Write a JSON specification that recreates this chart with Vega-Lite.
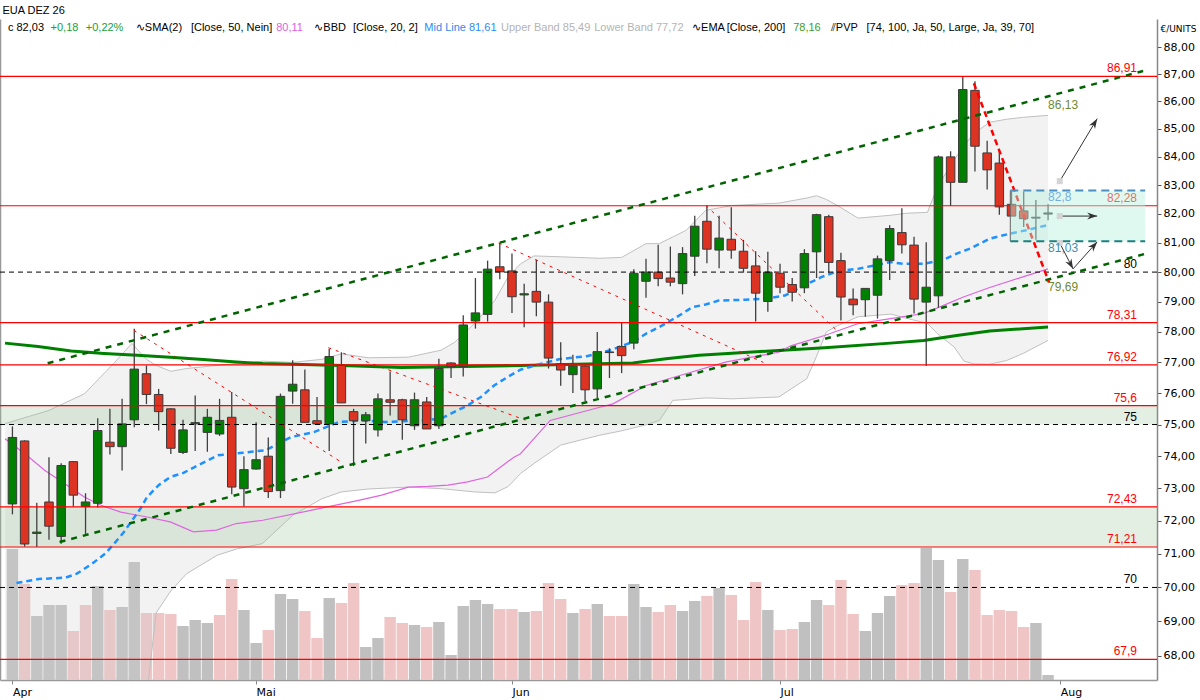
{
  "$schema": "https://vega.github.io/schema/vega-lite/v6.json",
  "width": 1157,
  "height": 661,
  "autosize": {"type": "none"},
  "padding": {"left": 0, "top": 19, "right": 43, "bottom": 20},
  "background": "white",
  "title": {"text": "EUA DEZ 26", "anchor": "start", "font": "Liberation Sans", "fontSize": 11, "fontWeight": "normal", "color": "#000", "offset": 3, "dx": 3},
  "config": {
    "view": {"stroke": null},
    "axis": {"grid": false, "labelFont": "DejaVu Sans", "labelFontSize": 11, "labelColor": "#000"}
  },
  "datasets": {
    "candles": [
      {"i": 0, "o": 72.52, "h": 74.94, "l": 72.2, "c": 74.59},
      {"i": 1, "o": 74.48, "h": 74.5, "l": 71.22, "c": 71.3},
      {"i": 2, "o": 71.62, "h": 72.56, "l": 71.21, "c": 71.66},
      {"i": 3, "o": 72.58, "h": 73.97, "l": 71.43, "c": 71.84},
      {"i": 4, "o": 71.53, "h": 73.78, "l": 71.31, "c": 73.71},
      {"i": 5, "o": 73.83, "h": 73.85, "l": 72.44, "c": 72.79},
      {"i": 6, "o": 72.44, "h": 72.85, "l": 71.57, "c": 72.58},
      {"i": 7, "o": 72.54, "h": 75.2, "l": 72.41, "c": 74.81},
      {"i": 8, "o": 74.44, "h": 75.5, "l": 74.05, "c": 74.3},
      {"i": 9, "o": 74.3, "h": 75.82, "l": 73.55, "c": 75.02},
      {"i": 10, "o": 75.15, "h": 78.1, "l": 74.91, "c": 76.78},
      {"i": 11, "o": 76.63, "h": 76.9, "l": 75.65, "c": 75.96},
      {"i": 12, "o": 75.96, "h": 76.14, "l": 74.81, "c": 75.41},
      {"i": 13, "o": 75.5, "h": 75.52, "l": 74.07, "c": 74.25},
      {"i": 14, "o": 74.12, "h": 75.15, "l": 74.07, "c": 74.83},
      {"i": 15, "o": 75.02, "h": 75.93, "l": 74.16, "c": 75.06},
      {"i": 16, "o": 74.75, "h": 75.5, "l": 74.14, "c": 75.23},
      {"i": 17, "o": 74.7, "h": 75.82, "l": 74.64, "c": 75.13},
      {"i": 18, "o": 75.23, "h": 76.04, "l": 72.82, "c": 73.04},
      {"i": 19, "o": 72.99, "h": 74.0, "l": 72.44, "c": 73.58},
      {"i": 20, "o": 73.6, "h": 75.07, "l": 73.58, "c": 73.89},
      {"i": 21, "o": 74.0, "h": 74.59, "l": 72.7, "c": 72.9},
      {"i": 22, "o": 72.93, "h": 75.99, "l": 72.7, "c": 75.9},
      {"i": 23, "o": 76.07, "h": 77.07, "l": 75.66, "c": 76.29},
      {"i": 24, "o": 76.11, "h": 76.77, "l": 75.07, "c": 75.07},
      {"i": 25, "o": 75.12, "h": 75.88, "l": 75.0, "c": 75.02},
      {"i": 26, "o": 75.02, "h": 77.44, "l": 74.16, "c": 77.19},
      {"i": 27, "o": 76.9, "h": 77.33, "l": 75.69, "c": 75.69},
      {"i": 28, "o": 75.41, "h": 75.5, "l": 73.69, "c": 75.12},
      {"i": 29, "o": 75.12, "h": 75.4, "l": 74.4, "c": 75.31},
      {"i": 30, "o": 74.83, "h": 75.99, "l": 74.62, "c": 75.82},
      {"i": 31, "o": 75.79, "h": 76.7, "l": 75.29, "c": 75.71},
      {"i": 32, "o": 75.79, "h": 75.82, "l": 74.52, "c": 75.15},
      {"i": 33, "o": 74.96, "h": 76.02, "l": 74.83, "c": 75.79},
      {"i": 34, "o": 75.72, "h": 75.88, "l": 74.86, "c": 74.86},
      {"i": 35, "o": 74.96, "h": 77.12, "l": 74.86, "c": 76.8},
      {"i": 36, "o": 76.98, "h": 77.0, "l": 76.49, "c": 76.87},
      {"i": 37, "o": 76.87, "h": 78.55, "l": 76.54, "c": 78.23},
      {"i": 38, "o": 78.36, "h": 79.8, "l": 78.11, "c": 78.63},
      {"i": 39, "o": 78.58, "h": 80.39, "l": 78.34, "c": 80.1},
      {"i": 40, "o": 80.18, "h": 81.01, "l": 79.76, "c": 80.01},
      {"i": 41, "o": 80.04, "h": 80.63, "l": 78.63, "c": 79.17},
      {"i": 42, "o": 79.23, "h": 79.61, "l": 78.15, "c": 79.27},
      {"i": 43, "o": 79.35, "h": 80.42, "l": 78.52, "c": 78.99},
      {"i": 44, "o": 78.99, "h": 79.25, "l": 76.8, "c": 77.14},
      {"i": 45, "o": 76.95, "h": 77.66, "l": 76.24, "c": 76.75},
      {"i": 46, "o": 76.6, "h": 77.25, "l": 76.01, "c": 76.88},
      {"i": 47, "o": 76.88, "h": 76.9, "l": 75.75, "c": 76.11},
      {"i": 48, "o": 76.14, "h": 78.0, "l": 75.85, "c": 77.35},
      {"i": 49, "o": 77.34, "h": 77.46, "l": 76.49, "c": 77.32},
      {"i": 50, "o": 77.52, "h": 78.32, "l": 76.65, "c": 77.22},
      {"i": 51, "o": 77.63, "h": 80.1, "l": 77.43, "c": 79.96},
      {"i": 52, "o": 79.69, "h": 80.45, "l": 79.14, "c": 80.0},
      {"i": 53, "o": 80.0, "h": 80.93, "l": 79.52, "c": 79.78},
      {"i": 54, "o": 79.8, "h": 80.87, "l": 79.52, "c": 79.66},
      {"i": 55, "o": 79.61, "h": 80.85, "l": 79.25, "c": 80.63},
      {"i": 56, "o": 80.54, "h": 81.93, "l": 79.87, "c": 81.57},
      {"i": 57, "o": 81.74, "h": 82.29, "l": 80.3, "c": 80.78},
      {"i": 58, "o": 80.75, "h": 81.93, "l": 80.13, "c": 81.16},
      {"i": 59, "o": 81.12, "h": 82.23, "l": 80.45, "c": 80.75},
      {"i": 60, "o": 80.71, "h": 81.1, "l": 79.98, "c": 80.13},
      {"i": 61, "o": 80.21, "h": 80.71, "l": 78.34, "c": 79.29},
      {"i": 62, "o": 79.01, "h": 80.69, "l": 78.67, "c": 80.0},
      {"i": 63, "o": 79.96, "h": 80.28, "l": 79.29, "c": 79.49},
      {"i": 64, "o": 79.58, "h": 79.8, "l": 79.01, "c": 79.32},
      {"i": 65, "o": 79.47, "h": 80.78, "l": 79.29, "c": 80.63},
      {"i": 66, "o": 80.69, "h": 82.0, "l": 79.8, "c": 81.97},
      {"i": 67, "o": 81.9, "h": 81.97, "l": 79.98, "c": 80.33},
      {"i": 68, "o": 80.39, "h": 80.66, "l": 78.38, "c": 79.16},
      {"i": 69, "o": 79.09, "h": 79.45, "l": 78.55, "c": 78.9},
      {"i": 70, "o": 79.07, "h": 79.45, "l": 78.5, "c": 79.45},
      {"i": 71, "o": 79.22, "h": 80.56, "l": 78.44, "c": 80.45},
      {"i": 72, "o": 80.39, "h": 81.6, "l": 79.73, "c": 81.49},
      {"i": 73, "o": 81.35, "h": 82.19, "l": 80.63, "c": 80.93},
      {"i": 74, "o": 80.92, "h": 81.21, "l": 78.61, "c": 79.09},
      {"i": 75, "o": 78.99, "h": 81.02, "l": 76.88, "c": 79.49},
      {"i": 76, "o": 79.2, "h": 84.05, "l": 78.8, "c": 84.0},
      {"i": 77, "o": 84.0, "h": 84.2, "l": 82.27, "c": 83.1},
      {"i": 78, "o": 83.1, "h": 86.9, "l": 83.1, "c": 86.43},
      {"i": 79, "o": 86.4, "h": 86.73, "l": 83.48, "c": 84.38},
      {"i": 80, "o": 84.14, "h": 84.58, "l": 82.85, "c": 83.54},
      {"i": 81, "o": 83.78, "h": 84.2, "l": 81.97, "c": 82.24},
      {"i": 82, "o": 82.33, "h": 82.8, "l": 81.92, "c": 81.92},
      {"i": 83, "o": 82.1, "h": 82.78, "l": 81.54, "c": 81.83},
      {"i": 84, "o": 81.88, "h": 82.48, "l": 81.1, "c": 81.85},
      {"i": 85, "o": 81.99, "h": 82.34, "l": 81.78, "c": 82.03}
    ],
    "vol": [
      {"i": 0, "v": 131, "d": "up"}, {"i": 1, "v": 96, "d": "down"}, {"i": 2, "v": 64, "d": "up"},
      {"i": 3, "v": 75, "d": "up"}, {"i": 4, "v": 75, "d": "up"}, {"i": 5, "v": 49, "d": "down"},
      {"i": 6, "v": 75, "d": "down"}, {"i": 7, "v": 94, "d": "up"}, {"i": 8, "v": 70, "d": "down"},
      {"i": 9, "v": 73, "d": "up"}, {"i": 10, "v": 118, "d": "up"}, {"i": 11, "v": 67, "d": "down"},
      {"i": 12, "v": 67, "d": "down"}, {"i": 13, "v": 66, "d": "down"}, {"i": 14, "v": 54, "d": "up"},
      {"i": 15, "v": 60, "d": "up"}, {"i": 16, "v": 57, "d": "up"}, {"i": 17, "v": 65, "d": "down"},
      {"i": 18, "v": 101, "d": "down"}, {"i": 19, "v": 70, "d": "up"}, {"i": 20, "v": 37, "d": "up"},
      {"i": 21, "v": 50, "d": "down"}, {"i": 22, "v": 86, "d": "up"}, {"i": 23, "v": 81, "d": "up"},
      {"i": 24, "v": 69, "d": "down"}, {"i": 25, "v": 42, "d": "down"}, {"i": 26, "v": 82, "d": "up"},
      {"i": 27, "v": 77, "d": "down"}, {"i": 28, "v": 97, "d": "down"}, {"i": 29, "v": 33, "d": "up"},
      {"i": 30, "v": 42, "d": "up"}, {"i": 31, "v": 63, "d": "down"}, {"i": 32, "v": 57, "d": "down"},
      {"i": 33, "v": 55, "d": "up"}, {"i": 34, "v": 53, "d": "down"}, {"i": 35, "v": 58, "d": "up"},
      {"i": 36, "v": 25, "d": "up"}, {"i": 37, "v": 74, "d": "up"}, {"i": 38, "v": 80, "d": "up"},
      {"i": 39, "v": 76, "d": "up"}, {"i": 40, "v": 71, "d": "down"}, {"i": 41, "v": 71, "d": "down"},
      {"i": 42, "v": 68, "d": "up"}, {"i": 43, "v": 69, "d": "down"}, {"i": 44, "v": 97, "d": "down"},
      {"i": 45, "v": 81, "d": "down"}, {"i": 46, "v": 67, "d": "up"}, {"i": 47, "v": 71, "d": "down"},
      {"i": 48, "v": 76, "d": "up"}, {"i": 49, "v": 64, "d": "down"}, {"i": 50, "v": 64, "d": "down"},
      {"i": 51, "v": 96, "d": "up"}, {"i": 52, "v": 73, "d": "up"}, {"i": 53, "v": 68, "d": "down"},
      {"i": 54, "v": 75, "d": "down"}, {"i": 55, "v": 69, "d": "up"}, {"i": 56, "v": 79, "d": "up"},
      {"i": 57, "v": 84, "d": "down"}, {"i": 58, "v": 92, "d": "up"}, {"i": 59, "v": 85, "d": "down"},
      {"i": 60, "v": 60, "d": "down"}, {"i": 61, "v": 98, "d": "down"}, {"i": 62, "v": 70, "d": "up"},
      {"i": 63, "v": 50, "d": "down"}, {"i": 64, "v": 51, "d": "down"}, {"i": 65, "v": 58, "d": "up"},
      {"i": 66, "v": 80, "d": "up"}, {"i": 67, "v": 75, "d": "down"}, {"i": 68, "v": 100, "d": "down"},
      {"i": 69, "v": 66, "d": "down"}, {"i": 70, "v": 49, "d": "up"}, {"i": 71, "v": 67, "d": "up"},
      {"i": 72, "v": 84, "d": "up"}, {"i": 73, "v": 95, "d": "down"}, {"i": 74, "v": 97, "d": "down"},
      {"i": 75, "v": 132, "d": "up"}, {"i": 76, "v": 120, "d": "up"}, {"i": 77, "v": 88, "d": "down"},
      {"i": 78, "v": 121, "d": "up"}, {"i": 79, "v": 110, "d": "down"}, {"i": 80, "v": 65, "d": "down"},
      {"i": 81, "v": 70, "d": "down"}, {"i": 82, "v": 69, "d": "down"}, {"i": 83, "v": 53, "d": "down"},
      {"i": 84, "v": 57, "d": "up"}, {"i": 85, "v": 5, "d": "up"}
    ],
    "bb": [
      {"i": -0.6, "u": 75.03, "lo": 63.5}, {"i": 3, "u": 75.45, "lo": 64.0}, {"i": 5.9, "u": 75.98, "lo": 64.5},
      {"i": 8.3, "u": 76.96, "lo": 65.0}, {"i": 9.8, "u": 77.62, "lo": 65.5}, {"i": 11, "u": 77.1, "lo": 66.8},
      {"i": 11.8, "u": 76.9, "lo": 69.25}, {"i": 13, "u": 76.71, "lo": 69.9}, {"i": 14.3, "u": 76.8, "lo": 70.41},
      {"i": 16.8, "u": 76.9, "lo": 70.96}, {"i": 18.4, "u": 76.96, "lo": 71.15}, {"i": 20.5, "u": 77.04, "lo": 71.31},
      {"i": 23, "u": 77.0, "lo": 72.17}, {"i": 25.4, "u": 77.1, "lo": 72.68}, {"i": 27, "u": 77.28, "lo": 72.89},
      {"i": 29.2, "u": 77.15, "lo": 72.98}, {"i": 32.5, "u": 77.17, "lo": 73.04}, {"i": 35.2, "u": 77.4, "lo": 72.99},
      {"i": 36.3, "u": 77.66, "lo": 72.95}, {"i": 37.9, "u": 78.27, "lo": 72.89}, {"i": 39.6, "u": 79.05, "lo": 72.86},
      {"i": 40.7, "u": 79.85, "lo": 73.06}, {"i": 41.7, "u": 80.28, "lo": 73.46}, {"i": 42.8, "u": 80.55, "lo": 73.77},
      {"i": 45, "u": 80.52, "lo": 74.35}, {"i": 48.2, "u": 80.47, "lo": 74.66}, {"i": 50, "u": 80.5, "lo": 74.8},
      {"i": 52, "u": 80.97, "lo": 74.99}, {"i": 53.1, "u": 80.97, "lo": 75.13}, {"i": 54.2, "u": 81.2, "lo": 75.77},
      {"i": 55.3, "u": 81.43, "lo": 75.8}, {"i": 56.9, "u": 82.12, "lo": 75.85}, {"i": 59.1, "u": 82.29, "lo": 75.82},
      {"i": 62.9, "u": 82.37, "lo": 75.88}, {"i": 65.2, "u": 82.55, "lo": 76.47}, {"i": 66, "u": 82.63, "lo": 77.2},
      {"i": 66.8, "u": 82.5, "lo": 78.0}, {"i": 67.7, "u": 82.29, "lo": 78.2}, {"i": 69.4, "u": 81.85, "lo": 78.5},
      {"i": 72.1, "u": 81.95, "lo": 78.59}, {"i": 73.4, "u": 82.02, "lo": 78.45}, {"i": 75.1, "u": 82.05, "lo": 78.28},
      {"i": 75.9, "u": 82.93, "lo": 77.95}, {"i": 77.3, "u": 83.9, "lo": 77.5}, {"i": 78.1, "u": 84.4, "lo": 77.04},
      {"i": 78.9, "u": 84.83, "lo": 76.95}, {"i": 80.2, "u": 85.24, "lo": 76.94}, {"i": 81.6, "u": 85.35, "lo": 77.06},
      {"i": 83, "u": 85.42, "lo": 77.3}, {"i": 85, "u": 85.49, "lo": 77.72}
    ],
    "mid": [
      {"i": 0.33, "p": 70.13}, {"i": 2.16, "p": 70.25}, {"i": 4.35, "p": 70.29}, {"i": 5.29, "p": 70.41},
      {"i": 6.55, "p": 70.71}, {"i": 7.61, "p": 71.01}, {"i": 8.37, "p": 71.32}, {"i": 9.15, "p": 71.66},
      {"i": 10.51, "p": 72.38}, {"i": 11.05, "p": 72.73}, {"i": 12.0, "p": 73.1}, {"i": 12.95, "p": 73.35},
      {"i": 14.04, "p": 73.48}, {"i": 14.99, "p": 73.67}, {"i": 15.93, "p": 73.85}, {"i": 16.88, "p": 74.03},
      {"i": 18.92, "p": 74.11}, {"i": 20.81, "p": 74.19}, {"i": 22.85, "p": 74.6}, {"i": 24.75, "p": 74.76},
      {"i": 26.79, "p": 75.08}, {"i": 28.68, "p": 75.13}, {"i": 30.58, "p": 75.08}, {"i": 33.56, "p": 75.13},
      {"i": 35.19, "p": 75.19}, {"i": 36.27, "p": 75.4}, {"i": 37.36, "p": 75.61}, {"i": 38.45, "p": 75.88},
      {"i": 39.53, "p": 76.25}, {"i": 40.62, "p": 76.52}, {"i": 41.7, "p": 76.76}, {"i": 43.33, "p": 76.95},
      {"i": 44.96, "p": 77.11}, {"i": 47.13, "p": 77.2}, {"i": 49.02, "p": 77.39}, {"i": 50.92, "p": 77.67},
      {"i": 52.01, "p": 77.94}, {"i": 53.09, "p": 78.16}, {"i": 54.17, "p": 78.41}, {"i": 54.99, "p": 78.61},
      {"i": 55.8, "p": 78.82}, {"i": 56.89, "p": 78.91}, {"i": 57.97, "p": 79.04}, {"i": 60.15, "p": 79.07},
      {"i": 61.78, "p": 79.1}, {"i": 63.4, "p": 79.21}, {"i": 64.75, "p": 79.5}, {"i": 66.38, "p": 79.83},
      {"i": 67.74, "p": 80.03}, {"i": 69.37, "p": 80.11}, {"i": 72.07, "p": 80.34}, {"i": 73.16, "p": 80.28},
      {"i": 74.79, "p": 80.28}, {"i": 76.42, "p": 80.42}, {"i": 77.5, "p": 80.63}, {"i": 78.59, "p": 80.8},
      {"i": 80.21, "p": 81.14}, {"i": 81.84, "p": 81.31}, {"i": 83.19, "p": 81.43}, {"i": 85.0, "p": 81.61}
    ],
    "sma": [
      {"i": -0.61, "p": 74.55}, {"i": 1.02, "p": 74.08}, {"i": 2.64, "p": 73.56}, {"i": 4.27, "p": 73.15},
      {"i": 5.9, "p": 72.73}, {"i": 7.26, "p": 72.48}, {"i": 8.89, "p": 72.27}, {"i": 11.05, "p": 72.12},
      {"i": 12.95, "p": 71.97}, {"i": 14.85, "p": 71.67}, {"i": 16.75, "p": 71.72}, {"i": 18.37, "p": 71.92},
      {"i": 20.55, "p": 72.02}, {"i": 23.8, "p": 72.27}, {"i": 28.41, "p": 72.63}, {"i": 30.31, "p": 72.79},
      {"i": 32.48, "p": 73.04}, {"i": 34.11, "p": 73.06}, {"i": 35.74, "p": 73.1}, {"i": 37.36, "p": 73.2},
      {"i": 38.99, "p": 73.35}, {"i": 40.07, "p": 73.66}, {"i": 41.16, "p": 73.97}, {"i": 41.7, "p": 74.08},
      {"i": 44.14, "p": 75.13}, {"i": 48.21, "p": 75.55}, {"i": 49.29, "p": 75.66}, {"i": 52.01, "p": 76.25},
      {"i": 55.26, "p": 76.63}, {"i": 58.52, "p": 77.01}, {"i": 60.68, "p": 77.17}, {"i": 62.86, "p": 77.33},
      {"i": 63.94, "p": 77.55}, {"i": 66.66, "p": 77.88}, {"i": 69.37, "p": 78.27}, {"i": 72.07, "p": 78.44},
      {"i": 74.79, "p": 78.61}, {"i": 76.42, "p": 78.88}, {"i": 78.05, "p": 79.16}, {"i": 80.21, "p": 79.48},
      {"i": 82.93, "p": 79.84}, {"i": 85.0, "p": 80.11}
    ],
    "ema": [
      {"i": -0.61, "p": 77.63}, {"i": 2.1, "p": 77.52}, {"i": 4.82, "p": 77.37}, {"i": 7.53, "p": 77.29},
      {"i": 10.24, "p": 77.23}, {"i": 12.95, "p": 77.17}, {"i": 15.66, "p": 77.09}, {"i": 18.37, "p": 77.01},
      {"i": 20.55, "p": 76.96}, {"i": 27.05, "p": 76.9}, {"i": 31.93, "p": 76.83}, {"i": 41.7, "p": 76.9},
      {"i": 50.92, "p": 76.98}, {"i": 53.64, "p": 77.12}, {"i": 56.35, "p": 77.23}, {"i": 59.06, "p": 77.3},
      {"i": 62.86, "p": 77.39}, {"i": 66.66, "p": 77.48}, {"i": 72.07, "p": 77.63}, {"i": 74.79, "p": 77.72},
      {"i": 77.5, "p": 77.88}, {"i": 80.21, "p": 78.03}, {"i": 85.0, "p": 78.16}
    ],
    "zones": [{"lo": 75.0, "hi": 75.6}, {"lo": 71.21, "hi": 72.43}],
    "levels": [
      {"p": 86.91, "t": "86,91", "k": "r"}, {"p": 82.28, "t": "82,28", "k": "r"},
      {"p": 78.31, "t": "78,31", "k": "r"}, {"p": 76.92, "t": "76,92", "k": "r"},
      {"p": 75.6, "t": "75,6", "k": "r"}, {"p": 72.43, "t": "72,43", "k": "r"},
      {"p": 71.21, "t": "71,21", "k": "r"}, {"p": 67.9, "t": "67,9", "k": "r"},
      {"p": 80, "t": "80", "k": "k"}, {"p": 75, "t": "75", "k": "k"}, {"p": 70, "t": "70", "k": "k"}
    ],
    "trend": [
      {"i": 2.89, "p": 76.97, "i2": 92.8, "p2": 87.11, "k": "g"},
      {"i": 3.87, "p": 71.36, "i2": 92.96, "p2": 80.62, "k": "g"},
      {"i": 9.97, "p": 78.05, "i2": 26.89, "p2": 73.84, "k": "r"},
      {"i": 25.92, "p": 77.48, "i2": 42.1, "p2": 75.14, "k": "r"},
      {"i": 39.91, "p": 80.99, "i2": 61.63, "p2": 77.0, "k": "r"},
      {"i": 56.92, "p": 82.29, "i2": 67.6, "p2": 78.07, "k": "r"},
      {"i": 78.91, "p": 86.66, "i2": 85.08, "p2": 79.65, "k": "rt"}
    ],
    "box": [{"i": 81.9, "i2": 92.97, "p": 82.81, "p2": 81.05}],
    "boxedges": [
      {"i": 81.9, "i2": 92.97, "p": 82.81, "k": "top"},
      {"i": 81.9, "i2": 92.97, "p": 81.05, "k": "bottom"}
    ],
    "arrows": [
      {"i": 85.96, "p": 83.14, "i2": 89.03, "p2": 85.37},
      {"i": 85.96, "p": 81.92, "i2": 89.03, "p2": 81.92},
      {"i": 85.96, "p": 80.99, "i2": 87.05, "p2": 80.11},
      {"i": 87.05, "p": 80.11, "i2": 89.03, "p2": 81.03}
    ],
    "ann": [
      {"p": 85.88, "t": "86,13", "k": "ch"},
      {"p": 82.57, "t": "82,8", "k": "hi"},
      {"p": 80.83, "t": "81,03", "k": "lo"},
      {"p": 79.49, "t": "79,69", "k": "ch"}
    ],
    "header": [
      {"x": -0.37, "t": "c 82,03", "k": "a"},
      {"x": 3.13, "t": "+0,18", "k": "g"},
      {"x": 6.02, "t": "+0,22%", "k": "g"},
      {"x": 10.13, "t": "∿SMA(2)", "k": "a"},
      {"x": 14.65, "t": "[Close, 50, Nein]", "k": "a"},
      {"x": 21.65, "t": "80,11", "k": "m"},
      {"x": 24.78, "t": "∿BBD", "k": "a"},
      {"x": 27.95, "t": "[Close, 20, 2]", "k": "a"},
      {"x": 33.81, "t": "Mid Line 81,61", "k": "b"},
      {"x": 40.1, "t": "Upper Band 85,49", "k": "l"},
      {"x": 47.75, "t": "Lower Band 77,72", "k": "l"},
      {"x": 55.78, "t": "∿EMA", "k": "a"},
      {"x": 58.62, "t": "[Close, 200]", "k": "a"},
      {"x": 64.08, "t": "78,16", "k": "e"},
      {"x": 67.17, "t": "⫽PVP", "k": "a"},
      {"x": 70.1, "t": "[74, 100, Ja, 50, Large, Ja, 39, 70]", "k": "a"}
    ]
  },
  "layer": [
    {
      "data": {"name": "vol"},
      "mark": {"type": "bar", "size": 11.4},
      "encoding": {
        "x": {
          "field": "i", "type": "quantitative", "title": null,
          "scale": {"domain": [-0.61, 93.53], "nice": false, "zero": false},
          "axis": {
            "orient": "bottom", "values": [0, 20, 41, 63, 86],
            "labelExpr": "datum.value == 0 ? 'Apr' : datum.value == 20 ? 'Mai' : datum.value == 41 ? 'Jun' : datum.value == 63 ? 'Jul' : 'Aug'",
            "labelAlign": "left", "labelPadding": 2, "tickSize": 4, "tickColor": "#888",
            "domainColor": "#999", "domainWidth": 1.5, "labelFlush": false
          }
        },
        "y": {
          "field": "v", "type": "quantitative", "title": null,
          "scale": {"domain": [0, 661], "nice": false},
          "axis": {"orient": "left", "labels": false, "ticks": false, "domain": true, "domainColor": "#999", "domainWidth": 1.5}
        },
        "color": {
          "field": "d", "type": "nominal", "legend": null,
          "scale": {"domain": ["up", "down"], "range": ["#c0c0c0", "#f0c5c5"]}
        }
      }
    },
    {
      "layer": [
        {
          "data": {"name": "bb"},
          "mark": {"type": "area", "fill": "#d0d0d0", "opacity": 0.28, "clip": true},
          "encoding": {
            "x": {"field": "i", "type": "quantitative", "title": null},
            "y": {
              "field": "u", "type": "quantitative",
              "scale": {"type": "log", "domain": [67.31, 89.05], "nice": false, "zero": false},
              "axis": {
                "orient": "right", "values": [68, 69, 70, 71, 72, 73, 74, 75, 76, 77, 78, 79, 80, 81, 82, 83, 84, 85, 86, 87, 88],
                "labelExpr": "replace(format(datum.value, '.2f'), '.', ',')",
                "tickSize": 4, "tickColor": "#555", "domainColor": "#888", "domainWidth": 1.5,
                "labelPadding": 2, "labelFlush": false,
                "title": "€/UNITS", "titleAngle": 0, "titleX": 3, "titleY": 9, "titleAlign": "left",
                "titleBaseline": "middle", "titleFontSize": 9, "titleFontWeight": "normal", "titleFont": "DejaVu Sans", "titleColor": "#000"
              }
            },
            "y2": {"field": "lo"}
          }
        },
        {
          "data": {"name": "bb"},
          "mark": {"type": "line", "color": "#c0c0c0", "strokeWidth": 1, "clip": true},
          "encoding": {
            "x": {"field": "i", "type": "quantitative", "title": null},
            "y": {"field": "u", "type": "quantitative"}
          }
        },
        {
          "data": {"name": "bb"},
          "mark": {"type": "line", "color": "#c0c0c0", "strokeWidth": 1, "clip": true},
          "encoding": {
            "x": {"field": "i", "type": "quantitative", "title": null},
            "y": {"field": "lo", "type": "quantitative"}
          }
        },
        {
          "data": {"name": "zones"},
          "mark": {"type": "rect", "fill": "#9fc49f", "opacity": 0.28},
          "encoding": {
            "y": {"field": "hi", "type": "quantitative"},
            "y2": {"field": "lo"}
          }
        },
        {
          "data": {"name": "ema"},
          "mark": {"type": "line", "color": "#008000", "strokeWidth": 3, "clip": true},
          "encoding": {
            "x": {"field": "i", "type": "quantitative", "title": null},
            "y": {"field": "p", "type": "quantitative"}
          }
        },
        {
          "data": {"name": "sma"},
          "mark": {"type": "line", "color": "#dd66dd", "strokeWidth": 1.2, "clip": true},
          "encoding": {
            "x": {"field": "i", "type": "quantitative", "title": null},
            "y": {"field": "p", "type": "quantitative"}
          }
        },
        {
          "data": {"name": "mid"},
          "mark": {"type": "line", "color": "#1e90ff", "strokeWidth": 2.5, "strokeDash": [6, 4], "clip": true},
          "encoding": {
            "x": {"field": "i", "type": "quantitative", "title": null},
            "y": {"field": "p", "type": "quantitative"}
          }
        },
        {
          "data": {"name": "candles"},
          "mark": {"type": "rule", "color": "#404040", "strokeWidth": 1.3},
          "encoding": {
            "x": {"field": "i", "type": "quantitative", "title": null},
            "y": {"field": "l", "type": "quantitative"},
            "y2": {"field": "h"}
          }
        },
        {
          "data": {"name": "candles"},
          "mark": {"type": "bar", "size": 8.5, "stroke": "#3a3a3a", "strokeWidth": 1},
          "encoding": {
            "x": {"field": "i", "type": "quantitative", "title": null},
            "y": {"field": "o", "type": "quantitative"},
            "y2": {"field": "c"},
            "fill": {"condition": {"test": "datum.c >= datum.o", "value": "#008000"}, "value": "#dd3322"}
          }
        },
        {
          "data": {"name": "levels"},
          "transform": [{"filter": "datum.k == 'r'"}],
          "mark": {"type": "rule", "color": "#ff0000", "strokeWidth": 1.2},
          "encoding": {"y": {"field": "p", "type": "quantitative"}}
        },
        {
          "data": {"name": "levels"},
          "transform": [{"filter": "datum.k == 'k'"}],
          "mark": {"type": "rule", "color": "#000000", "strokeWidth": 1, "strokeDash": [5, 4]},
          "encoding": {"y": {"field": "p", "type": "quantitative"}}
        },
        {
          "data": {"name": "levels"},
          "mark": {"type": "text", "align": "right", "baseline": "bottom", "dy": -1, "font": "Liberation Sans", "fontSize": 12},
          "encoding": {
            "x": {"datum": 92.3, "type": "quantitative"},
            "y": {"field": "p", "type": "quantitative"},
            "text": {"field": "t"},
            "color": {"condition": {"test": "datum.k == 'k'", "value": "#000000"}, "value": "#ff0000"}
          }
        },
        {
          "data": {"name": "trend"},
          "transform": [{"filter": "datum.k == 'g'"}],
          "mark": {"type": "rule", "color": "#006400", "strokeWidth": 2.5, "strokeDash": [6, 6]},
          "encoding": {
            "x": {"field": "i", "type": "quantitative", "title": null},
            "y": {"field": "p", "type": "quantitative"},
            "x2": {"field": "i2"},
            "y2": {"field": "p2"}
          }
        },
        {
          "data": {"name": "trend"},
          "transform": [{"filter": "datum.k == 'r'"}],
          "mark": {"type": "rule", "color": "#ff0000", "strokeWidth": 1, "strokeDash": [3, 5]},
          "encoding": {
            "x": {"field": "i", "type": "quantitative", "title": null},
            "y": {"field": "p", "type": "quantitative"},
            "x2": {"field": "i2"},
            "y2": {"field": "p2"}
          }
        },
        {
          "data": {"name": "trend"},
          "transform": [{"filter": "datum.k == 'rt'"}],
          "mark": {"type": "rule", "color": "#ff0000", "strokeWidth": 2.5, "strokeDash": [6, 4]},
          "encoding": {
            "x": {"field": "i", "type": "quantitative", "title": null},
            "y": {"field": "p", "type": "quantitative"},
            "x2": {"field": "i2"},
            "y2": {"field": "p2"}
          }
        },
        {
          "data": {"name": "box"},
          "mark": {"type": "rect", "fill": "#b8f2e0", "opacity": 0.45},
          "encoding": {
            "x": {"field": "i", "type": "quantitative", "title": null},
            "x2": {"field": "i2"},
            "y": {"field": "p", "type": "quantitative"},
            "y2": {"field": "p2"}
          }
        },
        {
          "data": {"name": "box"},
          "mark": {"type": "rule", "color": "#666666", "strokeWidth": 1},
          "encoding": {
            "x": {"field": "i", "type": "quantitative", "title": null},
            "y": {"field": "p", "type": "quantitative"},
            "y2": {"field": "p2"}
          }
        },
        {
          "data": {"name": "boxedges"},
          "mark": {"type": "rule", "strokeWidth": 2, "strokeDash": [8, 5]},
          "encoding": {
            "x": {"field": "i", "type": "quantitative", "title": null},
            "x2": {"field": "i2"},
            "y": {"field": "p", "type": "quantitative"},
            "color": {"condition": {"test": "datum.k == 'top'", "value": "#4a8fc0"}, "value": "#1a8080"}
          }
        },
        {
          "data": {"name": "arrows"},
          "mark": {"type": "rule", "color": "#333333", "strokeWidth": 1},
          "encoding": {
            "x": {"field": "i", "type": "quantitative", "title": null},
            "y": {"field": "p", "type": "quantitative"},
            "x2": {"field": "i2"},
            "y2": {"field": "p2"}
          }
        },
        {
          "data": {"name": "arrows"},
          "transform": [{"filter": "datum.i < 86"}],
          "mark": {"type": "point", "shape": "square", "size": 36, "filled": true, "color": "#d4d4d4", "opacity": 1},
          "encoding": {
            "x": {"field": "i", "type": "quantitative", "title": null},
            "y": {"field": "p", "type": "quantitative"}
          }
        },
        {
          "data": {"values": [{"i": 89.03, "p": 85.37}]},
          "mark": {"type": "point", "shape": "M0,0L-0.7,2L0,1.4L0.7,2Z", "size": 100, "filled": true, "color": "#333333", "opacity": 1, "angle": 31},
          "encoding": {
            "x": {"field": "i", "type": "quantitative", "title": null},
            "y": {"field": "p", "type": "quantitative"}
          }
        },
        {
          "data": {"values": [{"i": 89.03, "p": 81.92}]},
          "mark": {"type": "point", "shape": "M0,0L-0.7,2L0,1.4L0.7,2Z", "size": 100, "filled": true, "color": "#333333", "opacity": 1, "angle": 90},
          "encoding": {
            "x": {"field": "i", "type": "quantitative", "title": null},
            "y": {"field": "p", "type": "quantitative"}
          }
        },
        {
          "data": {"values": [{"i": 87.05, "p": 80.11}]},
          "mark": {"type": "point", "shape": "M0,0L-0.7,2L0,1.4L0.7,2Z", "size": 100, "filled": true, "color": "#333333", "opacity": 1, "angle": 152},
          "encoding": {
            "x": {"field": "i", "type": "quantitative", "title": null},
            "y": {"field": "p", "type": "quantitative"}
          }
        },
        {
          "data": {"values": [{"i": 89.03, "p": 81.03}]},
          "mark": {"type": "point", "shape": "M0,0L-0.7,2L0,1.4L0.7,2Z", "size": 100, "filled": true, "color": "#333333", "opacity": 1, "angle": 42},
          "encoding": {
            "x": {"field": "i", "type": "quantitative", "title": null},
            "y": {"field": "p", "type": "quantitative"}
          }
        },
        {
          "data": {"name": "ann"},
          "mark": {"type": "text", "align": "left", "baseline": "middle", "font": "Liberation Sans", "fontSize": 12},
          "encoding": {
            "x": {"datum": 85.0, "type": "quantitative"},
            "y": {"field": "p", "type": "quantitative"},
            "text": {"field": "t"},
            "color": {
              "condition": [
                {"test": "datum.k == 'hi'", "value": "#74aee0"},
                {"test": "datum.k == 'lo'", "value": "#3b8fb0"}
              ],
              "value": "#6f8a30"
            }
          }
        },
        {
          "data": {"name": "header"},
          "mark": {"type": "text", "align": "left", "baseline": "middle", "font": "Liberation Sans", "fontSize": 11},
          "encoding": {
            "x": {"field": "x", "type": "quantitative", "title": null},
            "y": {"datum": 88.72, "type": "quantitative"},
            "text": {"field": "t"},
            "color": {
              "condition": [
                {"test": "datum.k == 'g'", "value": "#22a033"},
                {"test": "datum.k == 'm'", "value": "#e060e0"},
                {"test": "datum.k == 'b'", "value": "#2a8cf0"},
                {"test": "datum.k == 'l'", "value": "#b4b4b4"},
                {"test": "datum.k == 'e'", "value": "#3c9c1c"}
              ],
              "value": "#000000"
            }
          }
        }
      ]
    }
  ],
  "resolve": {"scale": {"y": "independent"}}
}
